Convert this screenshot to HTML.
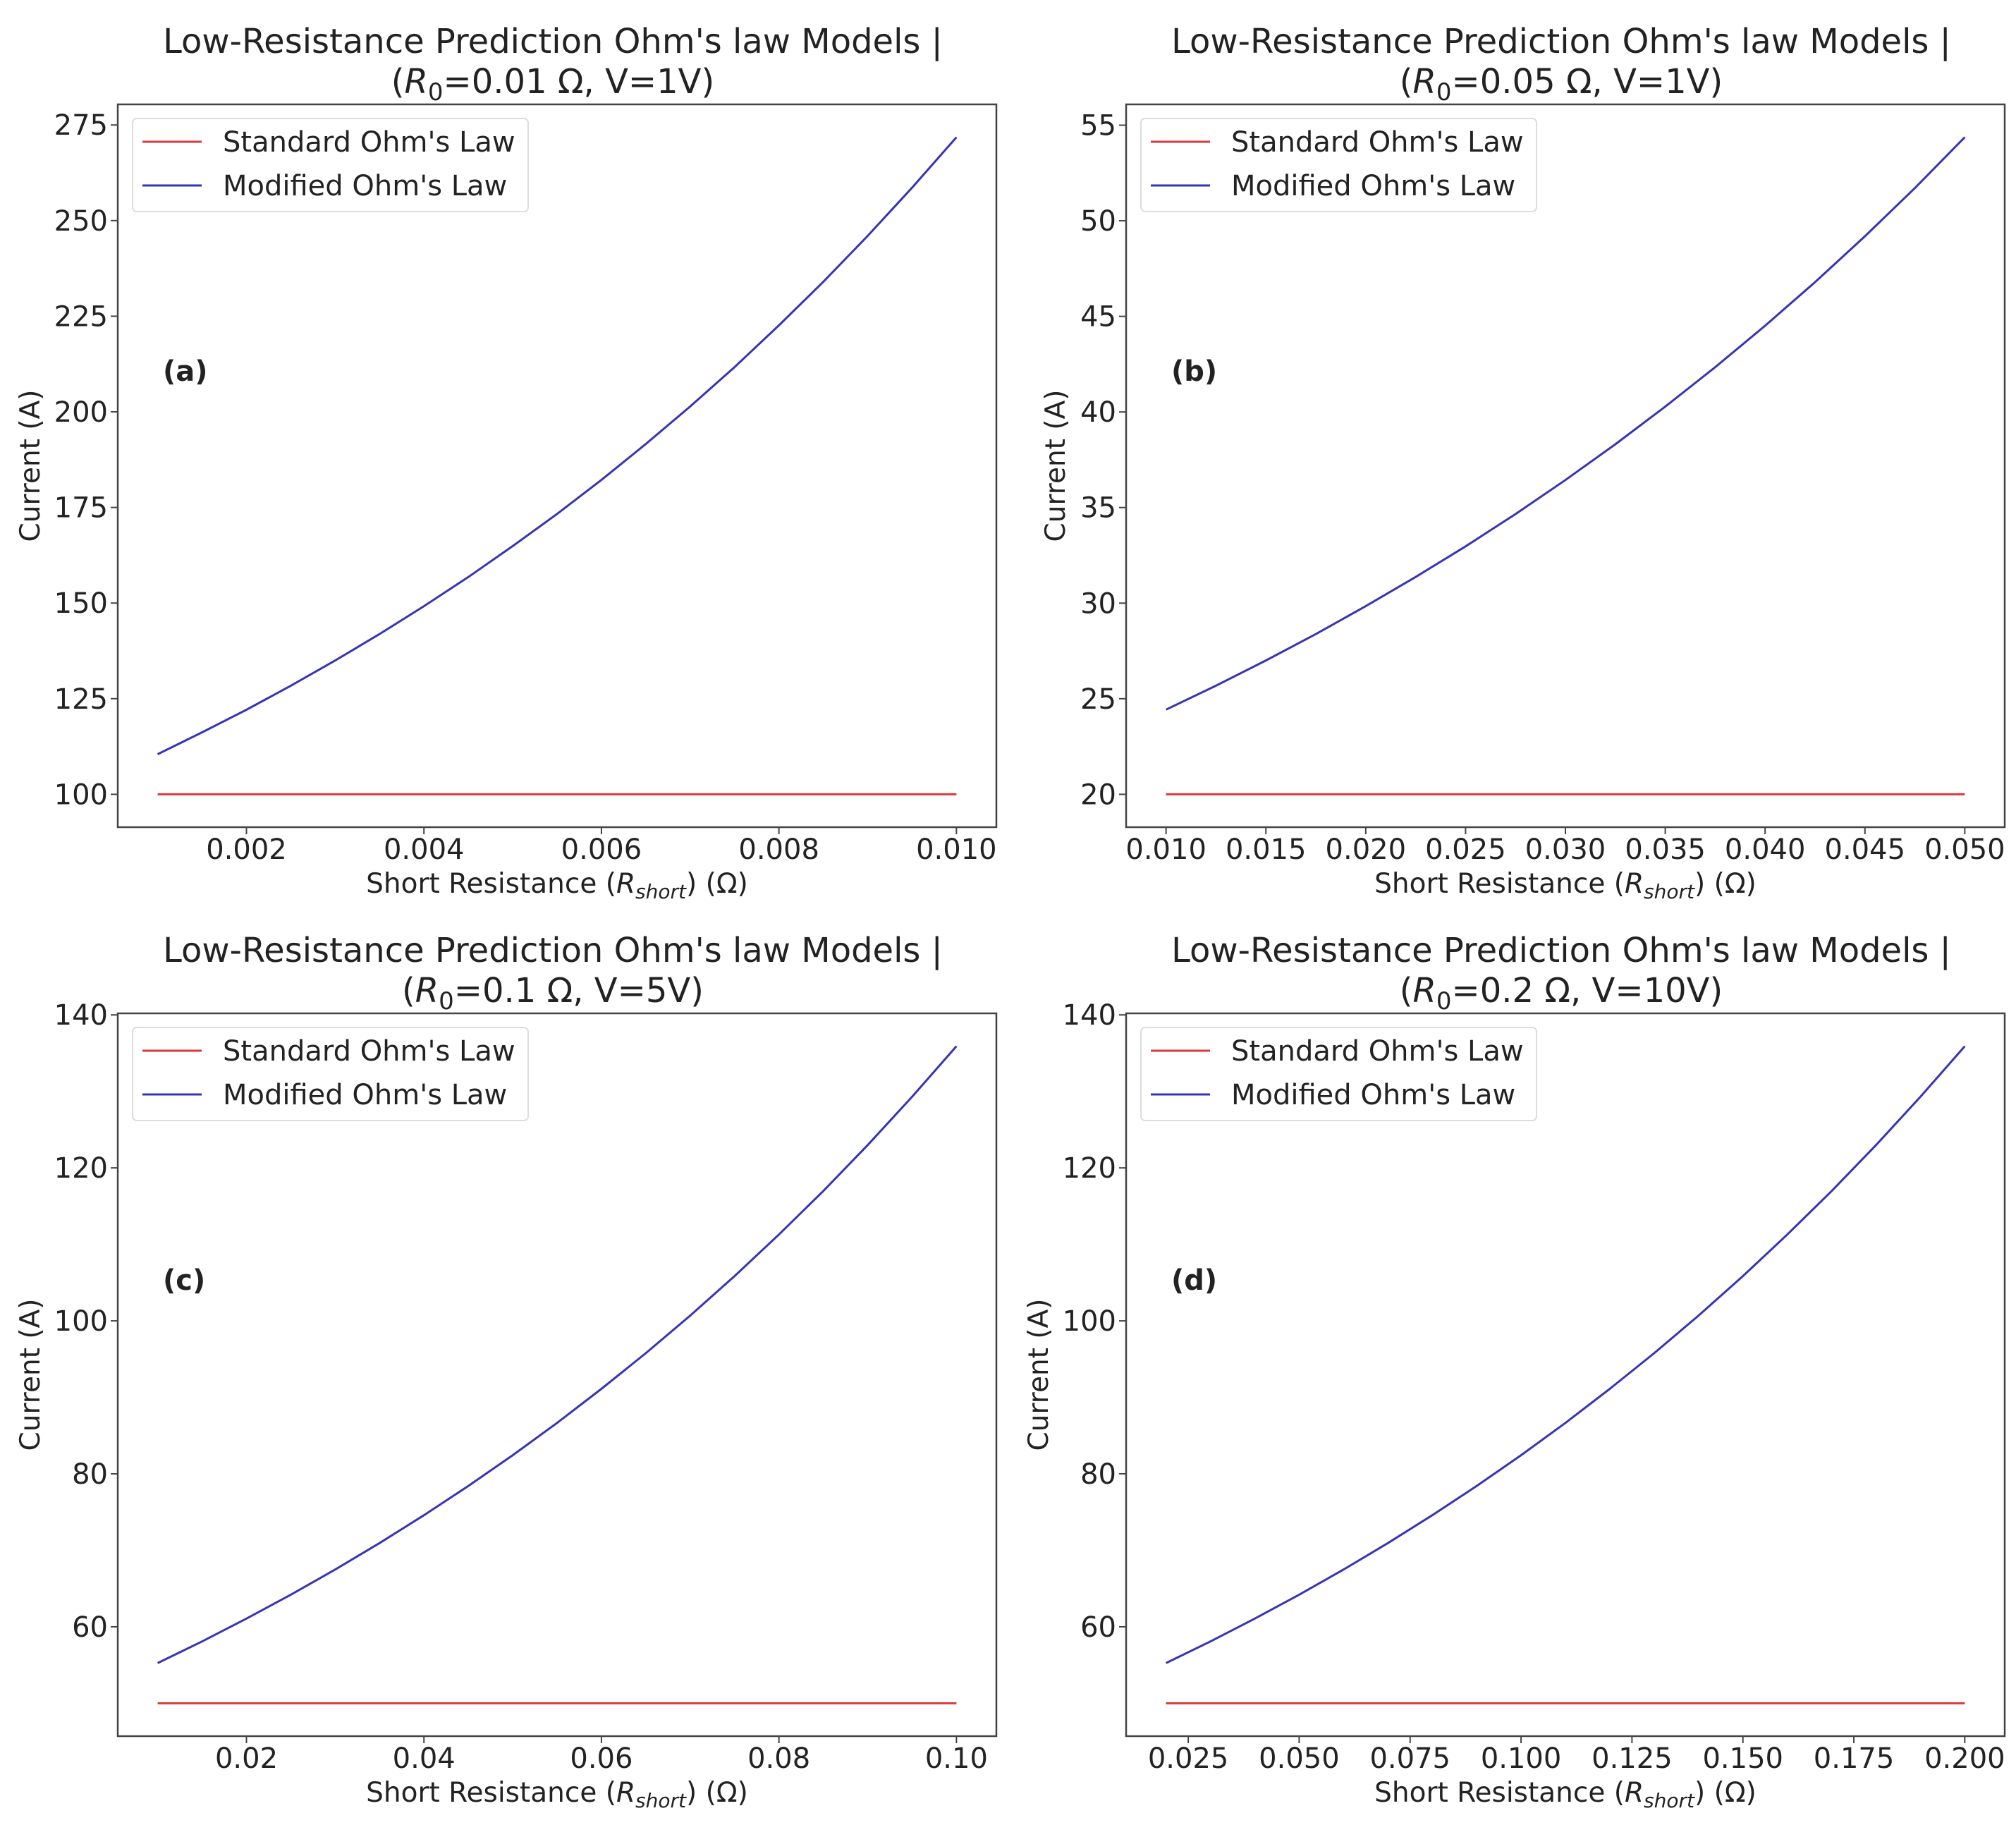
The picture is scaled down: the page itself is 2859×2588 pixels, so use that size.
<!DOCTYPE html>
<html><head><meta charset="utf-8"><style>
html,body{margin:0;padding:0;background:#fff;}
svg{display:block;font-family:"DejaVu Sans","Liberation Sans",sans-serif;fill:#222;}
</style></head><body>
<svg id="fig" xmlns="http://www.w3.org/2000/svg" width="2859" height="2588" viewBox="0 0 2859 2588"></svg>
<script>
// Panel (a): R0=0.01, V=1
const xA = [0.001,0.0015,0.002,0.0025,0.003,0.0035,0.004,0.0045,0.005,0.0055,0.006,0.0065,0.007,0.0075,0.008,0.0085,0.009,0.0095,0.010];
const modA = [110.5,116.2,122.1,128.4,135.0,141.9,149.2,156.8,164.9,173.3,182.2,191.6,201.4,211.7,222.6,234.0,246.0,258.6,271.8];
const stdA = [100,100,100,100,100,100,100,100,100,100,100,100,100,100,100,100,100,100,100];
const xTicksA = [0.002,0.004,0.006,0.008,0.010];
const xTickLabelsA = ["0.002","0.004","0.006","0.008","0.010"];
const yTicksA = [100,125,150,175,200,225,250,275];
// Panel (b): R0=0.05, V=1
const xB = [0.010,0.0125,0.015,0.0175,0.020,0.0225,0.025,0.0275,0.030,0.0325,0.035,0.0375,0.040,0.0425,0.045,0.0475,0.050];
const modB = [24.43,25.68,27.00,28.38,29.84,31.37,32.97,34.66,36.44,38.31,40.28,42.34,44.51,46.79,49.19,51.71,54.37];
const stdB = [20,20,20,20,20,20,20,20,20,20,20,20,20,20,20,20,20];
const xTicksB = [0.010,0.015,0.020,0.025,0.030,0.035,0.040,0.045,0.050];
const xTickLabelsB = ["0.010","0.015","0.020","0.025","0.030","0.035","0.040","0.045","0.050"];
const yTicksB = [20,25,30,35,40,45,50,55];
// Panel (c): R0=0.1, V=5
const xC = [0.010,0.015,0.020,0.025,0.030,0.035,0.040,0.045,0.050,0.055,0.060,0.065,0.070,0.075,0.080,0.085,0.090,0.095,0.100];
const modC = [55.26,58.09,61.07,64.20,67.49,70.95,74.59,78.42,82.44,86.66,91.11,95.78,100.69,105.85,111.28,116.98,122.98,129.29,135.91];
const stdC = [50,50,50,50,50,50,50,50,50,50,50,50,50,50,50,50,50,50,50];
const xTicksC = [0.02,0.04,0.06,0.08,0.10];
const xTickLabelsC = ["0.02","0.04","0.06","0.08","0.10"];
const yTicksC = [60,80,100,120,140];
// Panel (d): R0=0.2, V=10
const xD = [0.020,0.030,0.040,0.050,0.060,0.070,0.080,0.090,0.100,0.110,0.120,0.130,0.140,0.150,0.160,0.170,0.180,0.190,0.200];
const modD = [55.26,58.09,61.07,64.20,67.49,70.95,74.59,78.42,82.44,86.66,91.11,95.78,100.69,105.85,111.28,116.98,122.98,129.29,135.91];
const stdD = [50,50,50,50,50,50,50,50,50,50,50,50,50,50,50,50,50,50,50];
const xTicksD = [0.025,0.050,0.075,0.100,0.125,0.150,0.175,0.200];
const xTickLabelsD = ["0.025","0.050","0.075","0.100","0.125","0.150","0.175","0.200"];
const yTicksD = [60,80,100,120,140];

const NS = "http://www.w3.org/2000/svg";
const svg = document.getElementById('fig');
function mk(tag, attrs, parent, text){
  const e = document.createElementNS(NS, tag);
  for (const k in attrs) e.setAttribute(k, attrs[k]);
  if (text !== undefined) e.textContent = text;
  (parent||svg).appendChild(e);
  return e;
}

function panel(cfg){
  const g = mk('g', {});
  
  
  const L=cfg.left, R=cfg.left+1246, T=cfg.top, B=cfg.top+1025;
  const xs = cfg.x, allY = cfg.mod.concat(cfg.std);
  let x0=Math.min(...xs), x1=Math.max(...xs); const xm=(x1-x0)*0.05; x0-=xm; x1+=xm;
  let y0=Math.min(...allY), y1=Math.max(...allY); const ym=(y1-y0)*0.05; y0-=ym; y1+=ym;
  const sx = v => L + (v-x0)/(x1-x0)*(R-L);
  const sy = v => B - (v-y0)/(y1-y0)*(B-T);
  const cx=(L+R)/2;
  const t1 = mk('text', {x:cx-6, y:T-73, 'text-anchor':'middle', 'font-size':48}, g, "Low-Resistance Prediction Ohm's law Models |");
  
  
  const t2 = mk('text', {x:cx-6, y:T-16, 'text-anchor':'middle', 'font-size':48}, g);
  
  
  mk('tspan', {}, t2, '(');
  mk('tspan', {'font-style':'italic'}, t2, 'R');
  mk('tspan', {'font-size':34, dy:10}, t2, '0');
  mk('tspan', {dy:-10}, t2, '=' + cfg.sub);
  const pts = (ys) => xs.map((v,i)=>sx(v).toFixed(1)+','+sy(ys[i]).toFixed(1)).join(' ');
  const ls = mk('polyline', {points:pts(cfg.std), fill:'none', stroke:'#d83a3a', 'stroke-width':3}, g);
  
  
  const lm = mk('polyline', {points:pts(cfg.mod), fill:'none', stroke:'#3535b5', 'stroke-width':3}, g);
  
  
  const fr = mk('rect', {x:L, y:T, width:R-L, height:B-T, fill:'none', stroke:'#444', 'stroke-width':2.5}, g);
  
  
  cfg.xt.forEach((v,i)=>{
    const X=sx(v);
    mk('line', {x1:X, x2:X, y1:B, y2:B+10, stroke:'#444', 'stroke-width':2}, g);
    const tl = mk('text', {x:X, y:B+45, 'text-anchor':'middle', 'font-size':40}, g, cfg.xtl[i]);
    
    
  });
  cfg.yt.forEach(v=>{
    const Y=sy(v);
    mk('line', {x1:L-10, x2:L, y1:Y, y2:Y, stroke:'#444', 'stroke-width':2}, g);
    const tl = mk('text', {x:L-14, y:Y+14, 'text-anchor':'end', 'font-size':40}, g, String(v));
    
    
  });
  const xl = mk('text', {x:cx, y:B+93, 'text-anchor':'middle', 'font-size':39}, g);
  
  
  mk('tspan', {}, xl, 'Short Resistance (');
  mk('tspan', {'font-style':'italic'}, xl, 'R');
  mk('tspan', {'font-style':'italic','font-size':28, dy:8}, xl, 'short');
  mk('tspan', {dy:-8}, xl, ') (Ω)');
  const yx = cfg.ylx, yy=(T+B)/2;
  const yl = mk('text', {x:yx, y:yy, 'text-anchor':'middle', 'font-size':39, transform:`rotate(-90 ${yx} ${yy})`}, g, 'Current (A)');
  
  
  const pl = mk('text', {x:L+64, y:T+392, 'font-size':40, 'font-weight':'bold'}, g, '(' + cfg.letter + ')');
  
  
  const lg = mk('g', {}, g);
  
  
  mk('rect', {x:L+21, y:T+20, width:561, height:132, rx:6, fill:'#fff', stroke:'#ddd', 'stroke-width':2}, lg);
  mk('line', {x1:L+35, x2:L+119, y1:T+53, y2:T+53, stroke:'#d83a3a', 'stroke-width':3}, lg);
  const e1 = mk('text', {x:L+149, y:T+67, 'font-size':40}, lg, "Standard Ohm's Law");
  
  
  mk('line', {x1:L+35, x2:L+119, y1:T+115, y2:T+115, stroke:'#3535b5', 'stroke-width':3}, lg);
  const e2 = mk('text', {x:L+149, y:T+129, 'font-size':40}, lg, "Modified Ohm's Law");
  
  
}

panel({letter:'a', left:167, top:148, x:xA, mod:modA, std:stdA, xt:xTicksA, xtl:xTickLabelsA, yt:yTicksA, sub:'0.01 Ω, V=1V)', ylx:56});
panel({letter:'b', left:1597, top:148, x:xB, mod:modB, std:stdB, xt:xTicksB, xtl:xTickLabelsB, yt:yTicksB, sub:'0.05 Ω, V=1V)', ylx:1510});
panel({letter:'c', left:167, top:1437, x:xC, mod:modC, std:stdC, xt:xTicksC, xtl:xTickLabelsC, yt:yTicksC, sub:'0.1 Ω, V=5V)', ylx:56});
panel({letter:'d', left:1597, top:1437, x:xD, mod:modD, std:stdD, xt:xTicksD, xtl:xTickLabelsD, yt:yTicksD, sub:'0.2 Ω, V=10V)', ylx:1486});
</script>
</body></html>
